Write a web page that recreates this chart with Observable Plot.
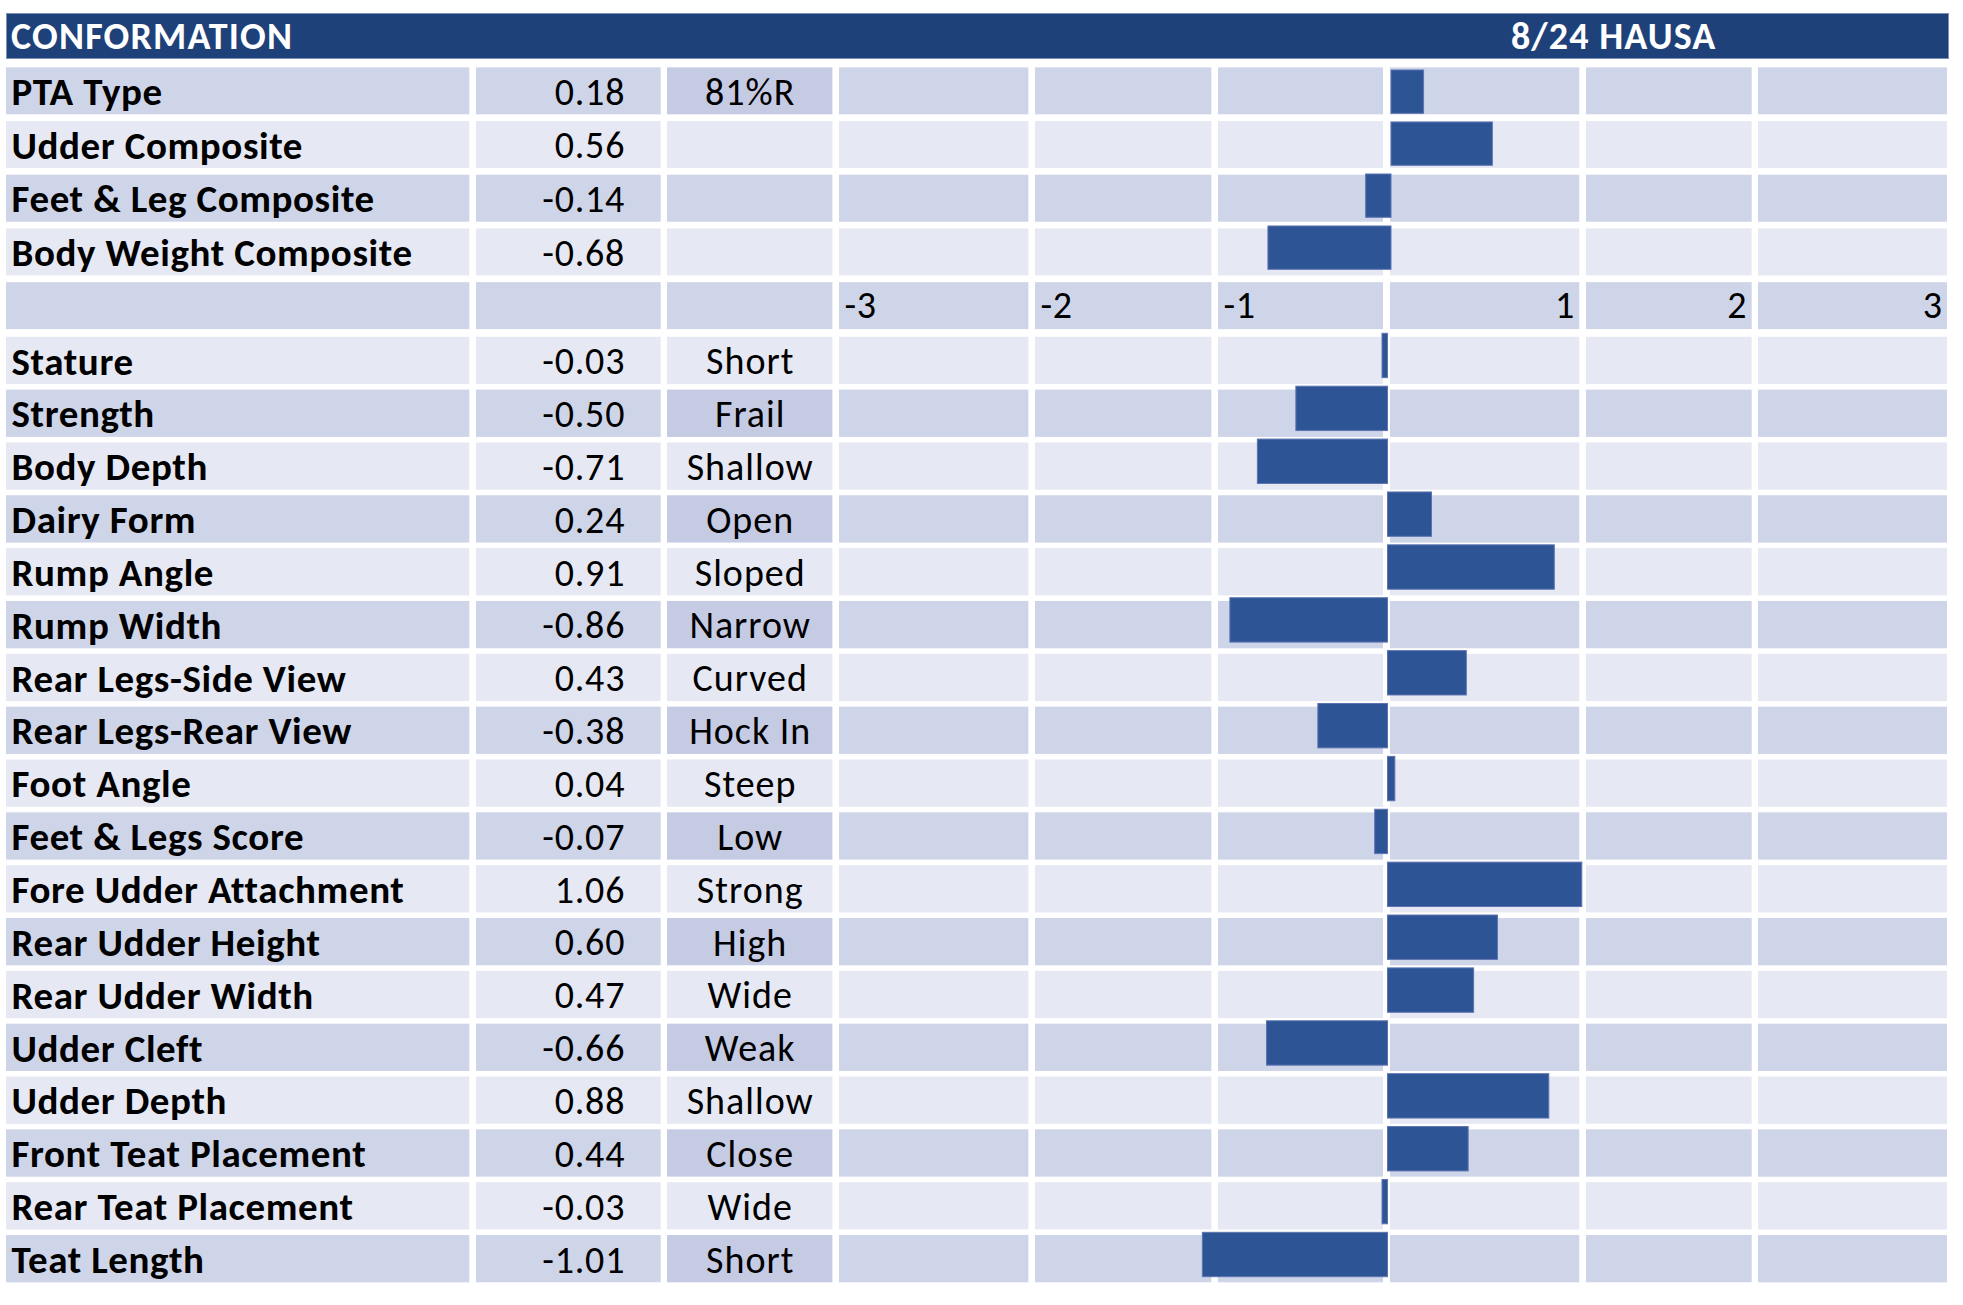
<!DOCTYPE html>
<html>
<head>
<meta charset="utf-8">
<script src="https://cdn.jsdelivr.net/npm/d3@7"></script>
<script src="https://cdn.jsdelivr.net/npm/@observablehq/plot@0.6"></script>
<style>
  html, body { margin: 0; padding: 0; background: #ffffff; }
  #root { position: relative; width: 1963px; height: 1305px; overflow: hidden; font-family: Carlito, Lato, "Open Sans", sans-serif; }
  #root svg { position: absolute; }
  .hdr { position: absolute; background: #1F4179; border: 1px solid #7F8FB8; box-sizing: border-box; color: #ffffff; font-weight: 700; }
  .hdr span { position: absolute; white-space: nowrap; }
</style>
</head>
<body>
<div id="root"></div>
<script>
// ---------------- data ----------------
const title = "CONFORMATION";
const source = "8/24 HAUSA";

const compositeTraits = ["PTA Type", "Udder Composite", "Feet & Leg Composite", "Body Weight Composite"];
const compositeValues = [0.18, 0.56, -0.14, -0.68];
const compositeNotes = ["81%R", "", "", ""];

const linearTraits = ["Stature", "Strength", "Body Depth", "Dairy Form", "Rump Angle", "Rump Width",
  "Rear Legs-Side View", "Rear Legs-Rear View", "Foot Angle", "Feet & Legs Score",
  "Fore Udder Attachment", "Rear Udder Height", "Rear Udder Width", "Udder Cleft",
  "Udder Depth", "Front Teat Placement", "Rear Teat Placement", "Teat Length"];
const linearValues = [-0.03, -0.50, -0.71, 0.24, 0.91, -0.86, 0.43, -0.38, 0.04, -0.07,
  1.06, 0.60, 0.47, -0.66, 0.88, 0.44, -0.03, -1.01];
const linearDescriptors = ["Short", "Frail", "Shallow", "Open", "Sloped", "Narrow", "Curved", "Hock In",
  "Steep", "Low", "Strong", "High", "Wide", "Weak", "Shallow", "Close", "Wide", "Short"];

const scaleTicks = [-3, -2, -1, 1, 2, 3];
const scaleDomain = [-3, 3];

// ---------------- styles / layout ----------------
const FONT = "Carlito, Lato, 'Open Sans', sans-serif";
const C_DARK = "#CFD5E8", C_LIGHT = "#E6E9F3", C_DESC_DARK = "#C6CBE4";
const C_BAR = "#2D5596", C_BAR_EDGE = "#5E74B2";

const cols = [
  {key: "label", x0: 6, x1: 469.3},
  {key: "value", x0: 476, x1: 660.7},
  {key: "desc", x0: 667.3, x1: 832.7},
  {key: "c0", x0: 839.3, x1: 1028.7},
  {key: "c1", x0: 1035.3, x1: 1211.7},
  {key: "c2", x0: 1218.3, x1: 1383.3},
  {key: "c3", x0: 1390, x1: 1579.3},
  {key: "c4", x0: 1586, x1: 1751.7},
  {key: "c5", x0: 1758.3, x1: 1947.3}
];

// build rows
const rows = [];
compositeTraits.forEach((t, i) => rows.push({id: "t" + i, label: t, value: compositeValues[i], desc: compositeNotes[i], section: "top"}));
rows.push({id: "axis", label: "", value: null, desc: "", section: "top", axis: true});
linearTraits.forEach((t, i) => rows.push({id: "l" + i, label: t, value: linearValues[i], desc: linearDescriptors[i], section: "bottom"}));
rows.forEach((r, i) => { r.dark = i % 2 === 0; });

const sections = {
  top: {y0: 64.15, y1: 332.65, pad: 0.125},
  bottom: {y0: 333.93, y1: 1285.07, pad: 0.105}
};

const root = document.getElementById("root");

// header
const hdr = document.createElement("div");
hdr.className = "hdr";
Object.assign(hdr.style, {left: "6px", top: "13px", width: "1943px", height: "46px"});
const h1 = document.createElement("span");
h1.textContent = title;
Object.assign(h1.style, {left: "4px", top: "-1px", fontSize: "38px", lineHeight: "46px", letterSpacing: "1.2px"});
const h2 = document.createElement("span");
h2.textContent = source;
Object.assign(h2.style, {left: "1504px", top: "-1px", fontSize: "38px", lineHeight: "46px", letterSpacing: "1.1px"});
hdr.appendChild(h1); hdr.appendChild(h2);
root.appendChild(hdr);

function cellFill(r, key) {
  if (key === "desc" && r.dark && r.desc) return C_DESC_DARK;
  return r.dark ? C_DARK : C_LIGHT;
}

function columnText(r, col, ci) {
  if (col.key === "label") return r.label;
  if (col.key === "value") return r.value == null ? "" : r.value.toFixed(2);
  if (col.key === "desc") return r.desc;
  if (r.axis) return String(scaleTicks[ci - 3]);
  return "";
}

for (const [secName, sec] of Object.entries(sections)) {
  const secRows = rows.filter(r => r.section === secName);
  const h = sec.y1 - sec.y0;
  cols.forEach((col, ci) => {
    const w = col.x1 - col.x0;
    const data = secRows.map(r => ({id: r.id, fill: cellFill(r, col.key), text: columnText(r, col, ci), axis: r.axis}));
    let textOpts, spacing;
    if (col.key === "label") { textOpts = {frameAnchor: "left", dx: 5, dy: 1.2, fontWeight: 700, fontSize: 39}; spacing = 0.6; }
    else if (col.key === "value") { textOpts = {frameAnchor: "right", dx: -36, dy: 1.2, fontSize: 38}; spacing = 0.8; }
    else if (col.key === "desc") { textOpts = {frameAnchor: "middle", dy: 1.2, fontSize: 38}; spacing = 1; }
    else if (ci < 6) { textOpts = {frameAnchor: "left", dx: 5, dy: 0, fontSize: 38}; spacing = 0.6; }
    else { textOpts = {frameAnchor: "right", dx: -5, dy: 0, fontSize: 38}; spacing = 0.6; }
    const plot = Plot.plot({
      width: w, height: h, margin: 0,
      style: {background: "transparent", overflow: "visible"},
      y: {type: "band", domain: secRows.map(r => r.id), range: [0, h], paddingInner: sec.pad, paddingOuter: sec.pad / 2, round: false, axis: null},
      color: {type: "identity"},
      marks: [
        Plot.cell(data, {y: "id", fill: "fill", inset: 0}),
        Plot.text(data.filter(d => d.text), {y: "id", text: "text", fill: "#000000", fontFamily: FONT, ...textOpts})
      ]
    });
    plot.querySelectorAll("text").forEach(t => { t.style.letterSpacing = spacing + "px"; });
    plot.style.left = col.x0 + "px";
    plot.style.top = sec.y0 + "px";
    plot.style.maxWidth = "none";
    root.appendChild(plot);
  });
}

// bar overlays (two embedded charts, as in the original sheet)
function barChart(traits, values, xRange, yRange, pad) {
  const data = traits.map((t, i) => ({trait: t, value: values[i]}));
  const plot = Plot.plot({
    width: 1963, height: 1305, margin: 0,
    style: {background: "transparent", overflow: "visible"},
    x: {domain: scaleDomain, range: xRange, axis: null},
    y: {type: "band", domain: traits, range: yRange, paddingInner: pad, paddingOuter: pad / 2, round: false, axis: null},
    marks: [
      Plot.barX(data, {x: "value", y: "trait", fill: C_BAR, stroke: C_BAR_EDGE, strokeWidth: 1})
    ]
  });
  plot.style.left = "0px";
  plot.style.top = "0px";
  plot.style.maxWidth = "none";
  plot.style.pointerEvents = "none";
  root.appendChild(plot);
}
barChart(compositeTraits, compositeValues, [848, 1934], [65.65, 273.65], 0.167);
barChart(linearTraits, linearValues, [837.6, 1937.4], [329.05, 1280.95], 0.161);
</script>
</body>
</html>
